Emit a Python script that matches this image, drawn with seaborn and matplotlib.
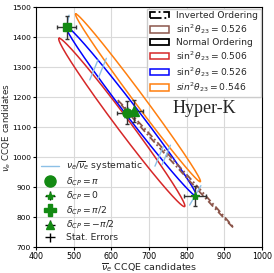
import numpy as np
import matplotlib.pyplot as plt
import seaborn as sns
from matplotlib.lines import Line2D
from matplotlib.patches import Patch

sns.set_theme(style="whitegrid")
plt.rcParams.update({
    "font.family": ["DejaVu Sans"],
    "axes.edgecolor": "black",
    "axes.linewidth": 0.8,
    "grid.color": "#d9d9d9",
    "grid.linewidth": 0.8,
    "xtick.bottom": True,
    "ytick.left": True,
    "xtick.major.size": 2.5,
    "ytick.major.size": 2.5,
    "xtick.color": "black",
    "ytick.color": "black",
    "mathtext.fontset": "dejavusans",
})

# contour ellipses: centre, half major axis vector (towards upper left), half horizontal width
ell_names = ["IO 0.526", "NO 0.506", "NO 0.526", "NO 0.546"]
ell_cx = [771, 628, 653, 671]
ell_cy = [977, 1116, 1153, 1198]
ell_ax = [-154, -166, -172, -165]
ell_ay = [213, 281, 283, 280]
ell_hw = [4, 22, 20, 17]
ell_colors = ["#8c564b", "#d62728", "#0000ff", "#ff7f0e"]

# oscillation points (nu_e_bar, nu_e) and statistical errors
pt_x = [641, 822, 482, 661]
pt_y = [1149, 871, 1433, 1155]
pt_xerr = [25, 29, 25, 24]
pt_yerr = [37, 33, 37, 37]

# nu_e / nu_e_bar systematic segments (start, end)
sys_x0 = [543, 565, 716, 735, 808, 479, 636]
sys_y0 = [1258, 1262, 970, 975, 840, 1419, 1130]
sys_x1 = [565, 587, 738, 757, 838, 488, 646]
sys_y1 = [1325, 1330, 1035, 1040, 905, 1474, 1165]

fig = plt.figure(figsize=(2.74, 2.73), dpi=100)
ax = fig.add_axes([0.131, 0.095, 0.825, 0.878])

t = np.linspace(0, 2 * np.pi, 400)
for i in range(len(ell_names)):
    ex = ell_cx[i] + ell_ax[i] * np.cos(t) + ell_hw[i] * np.sin(t)
    ey = ell_cy[i] + ell_ay[i] * np.cos(t)
    if i == 0:
        sns.lineplot(x=ex, y=ey, sort=False, estimator=None, ax=ax,
                     color=ell_colors[i], linewidth=1.3, zorder=3,
                     dashes=(4, 1.5, 1, 1.5))
    else:
        sns.lineplot(x=ex, y=ey, sort=False, estimator=None, ax=ax,
                     color=ell_colors[i], linewidth=1.1, zorder=2)

for i in range(len(sys_x0)):
    ax.plot([sys_x0[i], sys_x1[i]], [sys_y0[i], sys_y1[i]],
            color="#8cc0e6", linewidth=1.0, zorder=4)

ax.errorbar(pt_x, pt_y, xerr=pt_xerr, yerr=pt_yerr, fmt="none",
            ecolor="#333333", elinewidth=1.0, capsize=1.5, zorder=5)

green = "#138a13"
ax.plot(pt_x[0], pt_y[0], "o", color=green, markersize=6.5, zorder=6)
ax.plot(pt_x[1], pt_y[1], "*", color=green, markersize=6, zorder=6)
ax.plot(pt_x[2], pt_y[2], "s", color=green, markersize=5.5, zorder=6)
ax.plot(pt_x[3], pt_y[3], "^", color=green, markersize=6.5, zorder=6)

ax.text(846, 1164, "Hyper-K", family="Liberation Serif", fontsize=13,
        ha="center", va="center")

ax.set_xlim(400, 1000)
ax.set_ylim(700, 1500)
ax.set_xticks(np.arange(400, 1001, 100))
ax.set_yticks(np.arange(700, 1501, 100))
ax.tick_params(axis="x", labelsize=5.8, pad=1.2, width=0.8)
ax.tick_params(axis="y", labelsize=5.4, pad=1.0, width=0.8)
ax.set_xlabel(r"$\overline{\nu}_e$ CCQE candidates", fontsize=6.8, labelpad=0)
ax.set_ylabel(r"$\nu_e$ CCQE candidates", fontsize=6.3)
ax.yaxis.set_label_coords(-0.1, 0.5)
for s in ax.spines.values():
    s.set_color("black")

h_top = [
    Patch(facecolor="none", edgecolor="black", linestyle="-.", linewidth=1.3),
    Patch(facecolor="none", edgecolor="#8c564b", linewidth=1.1),
    Patch(facecolor="none", edgecolor="black", linewidth=1.3),
    Patch(facecolor="none", edgecolor="#d62728", linewidth=1.1),
    Patch(facecolor="none", edgecolor="#0000ff", linewidth=1.1),
    Patch(facecolor="none", edgecolor="#ff7f0e", linewidth=1.1),
]
l_top = ["Inverted Ordering", r"$\sin^2\theta_{23} = 0.526$", "Normal Ordering",
         r"$\sin^2\theta_{23} = 0.506$", r"$\sin^2\theta_{23} = 0.526$",
         r"$sin^2\theta_{23} = 0.546$"]
leg1 = ax.legend(h_top, l_top, loc="upper right", fontsize=6.6, frameon=True,
                 handlelength=2.1, handleheight=0.7, borderpad=0.3,
                 labelspacing=0.2, handletextpad=0.7, borderaxespad=0.15,
                 fancybox=False, edgecolor="#cccccc", framealpha=1)
ax.add_artist(leg1)

eb = ax.errorbar([], [], xerr=[], yerr=[], fmt="none", ecolor="black",
                 elinewidth=1.0, capsize=1.5)
eb0 = ax.errorbar([], [], xerr=[], yerr=[], fmt="*", color=green,
                  ecolor="black", elinewidth=1.0, markersize=6)
eb3 = ax.errorbar([], [], xerr=[], yerr=[], fmt="^", color=green,
                  ecolor="black", elinewidth=1.0, markersize=6)
h_bot = [
    Line2D([], [], color="#8cc0e6", linewidth=1.0),
    Line2D([], [], marker="o", color=green, linestyle="none", markersize=8),
    eb0,
    Line2D([], [], marker="P", color=green, linestyle="none", markersize=8),
    eb3,
    eb,
]
l_bot = [r"$\nu_e/\overline{\nu}_e$ systematic", r"$\delta_{CP} = \pi$",
         r"$\delta_{CP} = 0$", r"$\delta_{CP} = \pi/2$",
         r"$\delta_{CP} = -\pi/2$", "Stat. Errors"]
ax.legend(h_bot, l_bot, loc="lower left", fontsize=6.7, frameon=False,
          handlelength=2.0, borderpad=0.3, labelspacing=0.22,
          handletextpad=0.7, borderaxespad=0.2)

fig.savefig("out.png", dpi=100)
